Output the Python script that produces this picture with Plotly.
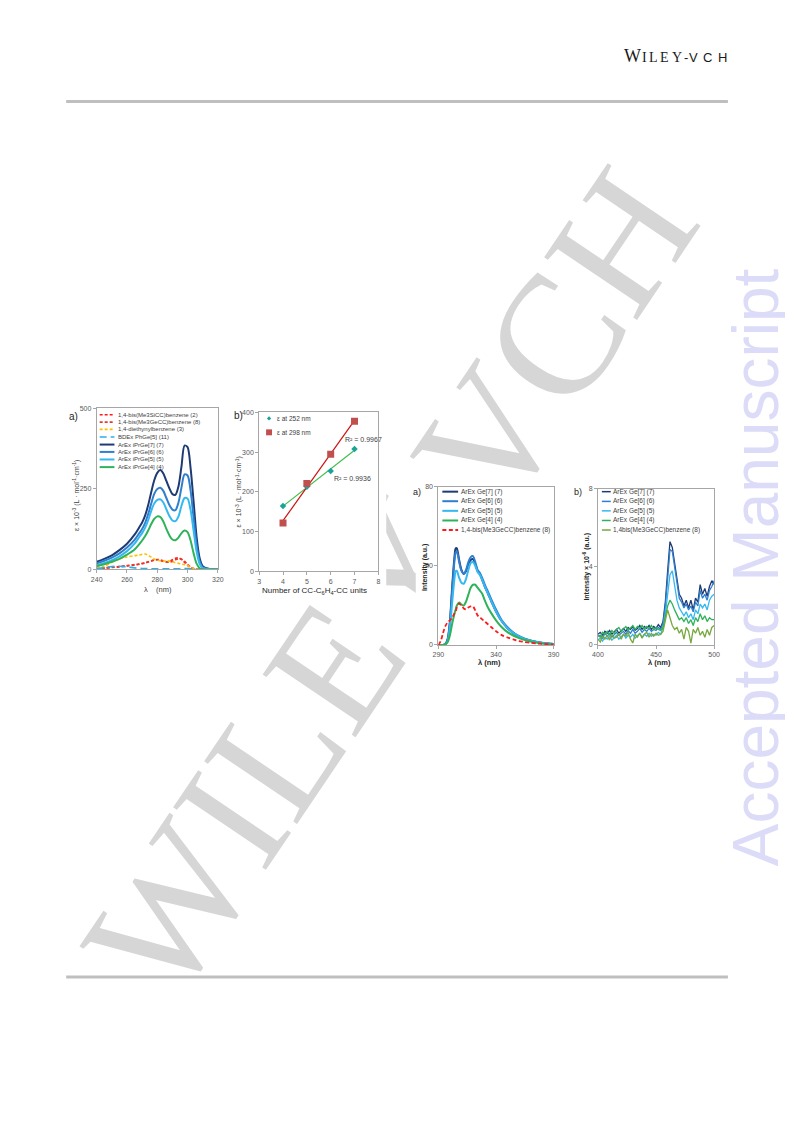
import plotly.graph_objects as go
import numpy as np

# page coordinates are used below; the html body has an 8px margin, so compensate
OFF = 8
FW, FH = 793 - OFF, 1121 - OFF
def px(x):
    return (x - OFF) / FW
def py(y):
    return 1 - (y - OFF) / FH

FONT = "Liberation Sans"

# ---------------- Panel a (UV absorption) ----------------
uv_wl = [240, 245, 250, 255, 260, 265, 268, 270, 272, 274, 276, 278, 280, 282, 284,
         286, 288, 290, 292, 294, 296, 298, 300, 302, 304, 306, 308, 310, 315, 320]
uv_si2 = [2, 4, 6, 8, 11, 14, 16, 18, 20, 23, 26, 29, 30, 28, 25,
          23, 25, 30, 35, 36, 31, 22, 13, 6, 2, 1, 0, 0, 0, 0]
uv_ge8 = [3, 5, 7, 9, 12, 15, 17, 19, 21, 24, 27, 30, 31, 30, 27,
          24, 23, 25, 30, 33, 32, 26, 16, 8, 3, 1, 0, 0, 0, 0]
uv_deb3 = [4, 10, 22, 33, 39, 43, 45, 47, 48, 44, 38, 32, 29, 27, 26,
           27, 26, 24, 21, 19, 17, 15, 12, 7, 3, 1, 0, 0, 0, 0]
uv_bdex11 = [2, 6, 9, 10, 8, 5, 4, 3, 3, 3, 2, 2, 2, 2, 2,
             2, 2, 2, 2, 2, 3, 3, 3, 2, 1, 0, 0, 0, 0, 0]
uv_ge7 = [24, 33, 44, 60, 80, 108, 130, 146, 168, 200, 240, 277, 300, 309, 298,
          275, 252, 234, 232, 258, 320, 385, 380, 315, 210, 100, 35, 10, 1, 0]
uv_ge6 = [19, 27, 37, 50, 68, 92, 112, 126, 145, 172, 205, 235, 250, 254, 244,
          222, 200, 186, 184, 208, 255, 295, 292, 245, 160, 75, 25, 6, 1, 0]
uv_ge5 = [13, 20, 29, 41, 57, 80, 100, 113, 130, 153, 182, 205, 216, 218, 208,
          187, 166, 152, 150, 165, 198, 222, 220, 185, 120, 55, 17, 4, 1, 0]
uv_ge4 = [10, 16, 24, 33, 46, 62, 78, 90, 104, 121, 141, 157, 165, 163, 149,
          126, 106, 93, 91, 99, 113, 121, 116, 90, 50, 18, 4, 1, 0, 0]
uv_names = ["1,4-bis(Me3SiCC)benzene (2)", "1,4-bis(Me3GeCC)benzene (8)",
            "1,4-diethynylbenzene (3)", "BDEx PhGe[5] (11)", "ArEx iPrGe[7] (7)",
            "ArEx iPrGe[6] (6)", "ArEx iPrGe[5] (5)", "ArEx iPrGe[4] (4)"]
uv_xticks = [240, 260, 280, 300, 320]
uv_yticks = [0, 250, 500]

# ---------------- Panel b (epsilon vs units) ----------------
units = [4, 5, 6, 7]
eps252 = [165, 213, 253, 308]
eps298 = [122, 221, 295, 378]
eps_names = ["ε at 252 nm", "ε at 298 nm"]
r2_labels = ["R² = 0.9936", "R² = 0.9967"]
b_xticks = [3, 4, 5, 6, 7, 8]
b_yticks = [0, 100, 200, 300, 400]

# ---------------- Panel c (fluorescence a) ----------------
fl_wl = [290, 292, 294, 296, 298, 300, 302, 304, 305, 306, 308, 310, 312, 314, 316, 318,
         320, 322, 324, 326, 328, 330, 333, 336, 340, 345, 350, 355, 360, 365, 370,
         375, 380, 385, 390]
fl_ge7 = [0, 0, 0, 0.5, 3, 12, 30, 45, 49, 49, 43, 38, 36, 37.5, 41, 43,
          43.5, 41, 37.5, 36, 33, 30, 26, 22, 17, 12, 8.5, 6, 4.3, 3, 2.2,
          1.5, 1.0, 0.7, 0.5]
fl_ge6 = [0, 0, 0, 0.5, 2.5, 11, 28, 43, 47, 47.5, 42, 37.5, 36, 38, 42, 44.5,
          45, 42, 38, 36.5, 34, 31, 27, 23, 18, 12.5, 9, 6.3, 4.5, 3.2, 2.3,
          1.6, 1.1, 0.8, 0.5]
fl_ge5 = [0, 0, 0, 0.3, 2, 9, 22, 34, 37.5, 37.5, 34, 31.5, 31, 33.5, 38, 41.5,
          42, 40, 37, 35.5, 33, 30, 26, 22, 17, 12, 8.5, 6, 4.3, 3, 2.2,
          1.5, 1.0, 0.7, 0.5]
fl_ge4 = [0, 0, 0, 0.3, 1.5, 5, 11, 16, 18, 20, 21.5, 20.5, 20, 22, 25.5, 29,
          30.5, 30.5, 29, 27.5, 26, 23, 19, 16, 12.5, 9, 6.5, 4.8, 3.5, 2.5, 1.8,
          1.2, 0.8, 0.5, 0.3]
fl_ge8 = [0, 2, 6, 9.5, 11.5, 12.5, 14, 16, 17, 19, 21, 20, 18.5, 18, 19, 19.5,
          19.5, 17.5, 15, 14, 13, 12, 10.5, 9, 7, 5, 3.8, 2.8, 2, 1.5, 1.1,
          0.8, 0.6, 0.4, 0.3]
fl_names = ["ArEx Ge[7] (7)", "ArEx Ge[6] (6)", "ArEx Ge[5] (5)", "ArEx Ge[4] (4)",
            "1,4-bis(Me3GeCC)benzene (8)"]
c_xticks = [290, 340, 390]
c_yticks = [0, 40, 80]

# ---------------- Panel d (fluorescence b) ----------------
ph_wl = [400, 402, 404, 406, 408, 410, 412, 414, 416, 418, 420, 422, 424, 426, 428,
         430, 432, 434, 436, 438, 440, 442, 444, 446, 448, 450, 452, 454, 456, 458,
         460, 462, 464, 466, 468, 470, 472, 474, 476, 478, 480, 482, 484, 486, 488,
         490, 492, 494, 496, 498, 500]
ph_ge7 = [0.55, 0.65, 0.5, 0.7, 0.6, 0.75, 0.55, 0.7, 0.8, 0.6, 0.75, 0.85, 0.7, 0.9, 0.8,
          0.95, 0.75, 0.85, 1.0, 0.8, 0.95, 0.85, 1.0, 0.8, 0.95, 0.85, 1.05, 0.9, 1.2, 2.2,
          3.8, 5.3, 5.0, 4.2, 3.2, 2.6, 2.4, 2.0, 2.3, 1.9, 2.3, 1.8, 2.4, 2.2, 3.1,
          2.6, 2.9, 2.5, 3.0, 3.3, 3.1]
ph_ge6 = [0.45, 0.5, 0.35, 0.6, 0.45, 0.6, 0.4, 0.55, 0.65, 0.5, 0.6, 0.7, 0.55, 0.75, 0.6,
          0.8, 0.6, 0.7, 0.85, 0.65, 0.8, 0.7, 0.85, 0.7, 0.8, 0.75, 0.9, 0.8, 1.1, 2.0,
          3.4, 4.9, 4.8, 4.0, 3.0, 2.4, 2.2, 1.9, 2.1, 1.8, 2.0, 1.7, 2.2, 2.0, 2.8,
          2.4, 2.6, 2.3, 2.8, 3.0, 3.3]
ph_ge5 = [0.25, 0.35, 0.2, 0.4, 0.3, 0.45, 0.25, 0.4, 0.5, 0.3, 0.45, 0.55, 0.35, 0.5, 0.4,
          0.55, 0.35, 0.5, 0.6, 0.4, 0.55, 0.45, 0.6, 0.45, 0.55, 0.5, 0.65, 0.55, 0.9, 1.6,
          2.7, 3.6, 3.8, 3.1, 2.3, 1.9, 1.7, 1.5, 1.7, 1.4, 1.6, 1.3, 1.8, 1.6, 2.1,
          1.9, 2.1, 1.8, 2.3, 2.5, 2.6]
ph_ge4 = [0.5, 0.4, 0.65, 0.55, 0.7, 0.5, 0.75, 0.6, 0.8, 0.9, 0.7, 0.85, 0.95, 0.75, 0.9,
          1.0, 0.8, 0.95, 0.85, 1.0, 0.8, 0.95, 0.85, 1.0, 0.8, 0.9, 0.8, 0.75, 0.9, 1.4,
          2.0, 2.3, 2.1, 1.8, 1.5, 1.3, 1.4, 1.2, 1.4, 1.1, 1.3, 1.0, 1.4, 1.2, 1.6,
          1.3, 1.5, 1.2, 1.4, 1.3, 1.3]
ph_ge8 = [0.3, 0.15, 0.45, 0.3, 0.5, 0.25, 0.55, 0.35, 0.4, 0.6, 0.3, 0.55, 0.45, 0.65, 0.3,
          0.1, 0.55, 0.4, 0.6, 0.35, 0.55, 0.65, 0.4, 0.6, 0.45, 0.6, 0.5, 0.55, 0.7, 1.2,
          1.8, 1.4, 1.0, 0.8, 0.9, 0.6, 0.8, 0.3, 0.9, 0.7, 0.1, 0.8, 0.6, 0.9, 0.5,
          0.7, 0.4, 0.8, 0.5, 0.9, 1.0]
ph_names = ["ArEx Ge[7] (7)", "ArEx Ge[6] (6)", "ArEx Ge[5] (5)", "ArEx Ge[4] (4)",
            "1,4bis(Me3GeCC)benzene (8)"]
d_xticks = [400, 450, 500]
d_yticks = [0, 4, 8]

# header logo letters: (char, centre x, font family, size)
logo = [("W", 636, "Liberation Serif", 18), ("I", 648, "Liberation Serif", 14),
        ("L", 657.5, "Liberation Serif", 14), ("E", 669, "Liberation Serif", 14),
        ("Y", 681, "Liberation Serif", 14), ("-", 690, "Liberation Sans", 13),
        ("V", 698.5, "Liberation Sans", 13), ("C", 712.5, "Liberation Sans", 13),
        ("H", 727, "Liberation Sans", 13)]

# colours
NAVY, MED, LIGHT, GREEN, OLIVE = "#1f3b73", "#2f7fcf", "#35b8f0", "#2fb35a", "#77a83e"
RED, RED2, YEL, BLUED = "#ff1a1a", "#e8382c", "#ffc000", "#2ab0ea"

fig = go.Figure()

# ---- panel a traces
uv_series = [uv_si2, uv_ge8, uv_deb3, uv_bdex11, uv_ge7, uv_ge6, uv_ge5, uv_ge4]
uv_style = [(RED, "3px,2px", 1.6), (RED2, "3px,2px", 1.6), (YEL, "3px,2px", 1.6),
            (BLUED, "7px,4px", 1.6), (NAVY, "solid", 2), (MED, "solid", 2),
            (LIGHT, "solid", 2), (GREEN, "solid", 2)]
for ys, nm, (c, d, w) in zip(uv_series, uv_names, uv_style):
    fig.add_trace(go.Scatter(x=uv_wl, y=ys, name=nm, mode="lines",
                             line=dict(color=c, dash=d, width=w, shape="spline", smoothing=0.8),
                             xaxis="x", yaxis="y", showlegend=False))

# ---- panel b traces (linear trend lines computed from data)
tcol = {"252": ("#1aa39a", "#3cc04a"), "298": ("#c0504d", "#cc1111")}
for ys, key in [(eps252, "252"), (eps298, "298")]:
    k, b0 = np.polyfit(units, ys, 1)
    xs_fit = [units[0], units[-1]]
    fig.add_trace(go.Scatter(x=xs_fit, y=[k * v + b0 for v in xs_fit], mode="lines",
                             line=dict(color=tcol[key][1], width=1.2),
                             xaxis="x2", yaxis="y2", showlegend=False))
for ys, key, sym, ms in [(eps252, "252", "diamond", 5), (eps298, "298", "square", 7)]:
    fig.add_trace(go.Scatter(x=units, y=ys, mode="markers",
                             marker=dict(color=tcol[key][0], symbol=sym, size=ms),
                             xaxis="x2", yaxis="y2", showlegend=False))

# ---- panel c traces
fl_series = [fl_ge7, fl_ge6, fl_ge5, fl_ge4, fl_ge8]
fl_style = [(NAVY, "solid", 2), (MED, "solid", 2), (LIGHT, "solid", 2), (GREEN, "solid", 2),
            (RED, "4px,2.5px", 1.8)]
for ys, nm, (c, d, w) in zip(fl_series, fl_names, fl_style):
    fig.add_trace(go.Scatter(x=fl_wl, y=ys, name=nm, mode="lines",
                             line=dict(color=c, dash=d, width=w, shape="spline", smoothing=0.7),
                             xaxis="x3", yaxis="y3", showlegend=False))

# ---- panel d traces
ph_series = [ph_ge7, ph_ge6, ph_ge5, ph_ge4, ph_ge8]
ph_style = [NAVY, MED, LIGHT, GREEN, OLIVE]
for ys, nm, c in zip(ph_series, ph_names, ph_style):
    fig.add_trace(go.Scatter(x=ph_wl, y=ys, name=nm, mode="lines",
                             line=dict(color=c, width=1.3),
                             xaxis="x4", yaxis="y4", showlegend=False))

axc = dict(showline=True, linecolor="#a6a6a6", linewidth=1, mirror=True, ticks="outside",
           ticklen=3, tickcolor="#a6a6a6", showgrid=False, zeroline=False,
           tickfont=dict(family=FONT, size=7, color="#595959"), fixedrange=True)

fig.update_layout(
    width=FW, height=FH, margin=dict(l=0, r=0, t=0, b=0),
    paper_bgcolor="white", plot_bgcolor="white", showlegend=False,
    xaxis=dict(axc, domain=[px(92), px(215)], range=[240, 320], tickvals=uv_xticks, anchor="y"),
    yaxis=dict(axc, domain=[py(569), py(407)], range=[0, 500], tickvals=uv_yticks, anchor="x"),
    xaxis2=dict(axc, domain=[px(257), px(378)], range=[3, 8], tickvals=b_xticks, anchor="y2"),
    yaxis2=dict(axc, domain=[py(571), py(411)], range=[0, 400], tickvals=b_yticks, anchor="x2"),
    xaxis3=dict(axc, domain=[px(439), px(556)], range=[290, 390], tickvals=c_xticks, anchor="y3"),
    yaxis3=dict(axc, domain=[py(645), py(486)], range=[0, 80], tickvals=c_yticks, anchor="x3"),
    xaxis4=dict(axc, domain=[px(601), px(719)], range=[400, 500], tickvals=d_xticks, anchor="y4"),
    yaxis4=dict(axc, domain=[py(645), py(488)], range=[0, 8], tickvals=d_yticks, anchor="x4"),
)

shapes = []
ann = []

# watermark (below everything)
def label_rect(cx, cy, text, angle, family, size, color):
    return dict(type="rect", xref="paper", yref="paper", x0=px(cx - 1), x1=px(cx + 1),
                y0=py(cy + 1), y1=py(cy - 1), line=dict(width=0),
                fillcolor="rgba(0,0,0,0)", layer="below",
                label=dict(text=text, textangle=angle, textposition="middle center",
                           font=dict(family=family, size=size, color=color)))

shapes.append(label_rect(374, 572, "WILEY-VCH", -56, "Liberation Serif", 171, "#d6d6d6"))
shapes.append(label_rect(755, 567, "Accepted Manuscript", -90, FONT, 64, "#dcdcf8"))

# white chart image backgrounds
for x0, y0, x1, y1 in [(55, 398, 222, 597), (224, 398, 386, 598), (416, 474, 566, 668),
                       (568, 474, 733, 668)]:
    shapes.append(dict(type="rect", xref="paper", yref="paper", x0=px(x0), x1=px(x1),
                       y0=py(y1), y1=py(y0), line=dict(width=0), fillcolor="white",
                       layer="below"))

# header / footer rules
for yy in [98, 979]:
    shapes.append(dict(type="line", xref="paper", yref="paper", x0=px(61), x1=px(733),
                       y0=py(yy), y1=py(yy), line=dict(color="#bfbfbf", width=3)))

# header logo, letter by letter (wide tracking)
for ch, cx, fam, sz in logo:
    ann.append(dict(xref="paper", yref="paper", x=px(cx), y=py(59.5), xanchor="center",
                    yanchor="bottom", showarrow=False, text=ch, borderpad=0,
                    yshift=-0.22 * sz,
                    font=dict(family=fam, size=sz, color="#1a1a1a")))

def txt(x, y, t, size=7, color="#404040", angle=0, xanchor="center", bold=False):
    if bold:
        t = "<b>" + t + "</b>"
    ann.append(dict(xref="paper", yref="paper", x=px(x), y=py(y), text=t, showarrow=False,
                    xanchor=xanchor, yanchor="middle", textangle=angle,
                    font=dict(family=FONT, size=size, color=color)))

# panel labels
txt(68, 415, "a)", size=10, color="#262626")
txt(236, 414, "b)", size=10, color="#262626")
txt(417, 491, "a)", size=9, color="#262626")
txt(581, 491, "b)", size=9, color="#262626")

# axis titles
txt(72, 495, "ε × 10<sup>-3</sup> (L · mol<sup>-1</sup>·cm<sup>-1</sup>)", size=7, angle=-90)
txt(154, 589, "λ    (nm)", size=7.5)
txt(237, 491, "ε × 10<sup>-3</sup> (L · mol<sup>-1</sup>·cm<sup>-1</sup>)", size=7, angle=-90)
txt(313, 591, "Number of CC-C<sub>6</sub>H<sub>4</sub>-CC units", size=8, color="#262626")
txt(426, 567, "Intensity (a.u.)", size=7, angle=-90, bold=True, color="#262626")
txt(491, 663, "λ (nm)", size=7.5, bold=True, color="#262626")
txt(589, 566, "Intensity × 10<sup>-6</sup> (a.u.)", size=7, angle=-90, bold=True, color="#262626")
txt(664, 663, "λ (nm)", size=7.5, bold=True, color="#262626")

# R² labels
txt(342, 438, r2_labels[1], size=7, color="#404040", xanchor="left")
txt(331, 477, r2_labels[0], size=7, color="#404040", xanchor="left")

# manual legends
def legend(entries, x0, x1, xt, ys, size, color="#404040"):
    for (nm, c, d, w), yy in zip(entries, ys):
        shapes.append(dict(type="line", xref="paper", yref="paper", x0=px(x0), x1=px(x1),
                           y0=py(yy), y1=py(yy), line=dict(color=c, width=w, dash=d)))
        ann.append(dict(xref="paper", yref="paper", x=px(xt), y=py(yy), text=nm,
                        showarrow=False, xanchor="left", yanchor="middle",
                        font=dict(family=FONT, size=size, color=color)))

legend([(n, s[0], s[1], s[2]) for n, s in zip(uv_names, uv_style)],
       95, 110, 112, [413.3, 420.7, 428, 435.7, 443.3, 450.7, 458.3, 466], 6)
legend([(n, s[0], s[1], s[2]) for n, s in zip(fl_names, fl_style)],
       443, 459, 460, [490.7, 500.3, 510, 519.7, 529.3], 6.5)
legend([(n, c, "solid", 1.5) for n, c in zip(ph_names, ph_style)],
       605, 614, 614.5, [490.7, 500.5, 510, 519.7, 529.3], 6.5)

# panel b legend
for nm, key, sym, yy in [(eps_names[0], "252", "diamond", 417), (eps_names[1], "298", "square", 431)]:
    ann.append(dict(xref="paper", yref="paper", x=px(273), y=py(yy), text=nm, showarrow=False,
                    xanchor="left", yanchor="middle", font=dict(family=FONT, size=6.5, color="#404040")))
    if sym == "square":
        half = 3
        shapes.append(dict(type="rect", xref="paper", yref="paper", x0=px(267 - half), x1=px(267 + half),
                           y0=py(yy + half), y1=py(yy - half), line=dict(width=0),
                           fillcolor=tcol[key][0]))
    else:
        half = 2.2
        shapes.append(dict(type="path", xref="paper", yref="paper",
                           path=f"M {px(267)} {py(yy - half)} L {px(267 + half)} {py(yy)} L {px(267)} {py(yy + half)} L {px(267 - half)} {py(yy)} Z",
                           line=dict(width=0), fillcolor=tcol[key][0]))

fig.update_layout(shapes=shapes, annotations=ann)
fig.write_html("out.html")
